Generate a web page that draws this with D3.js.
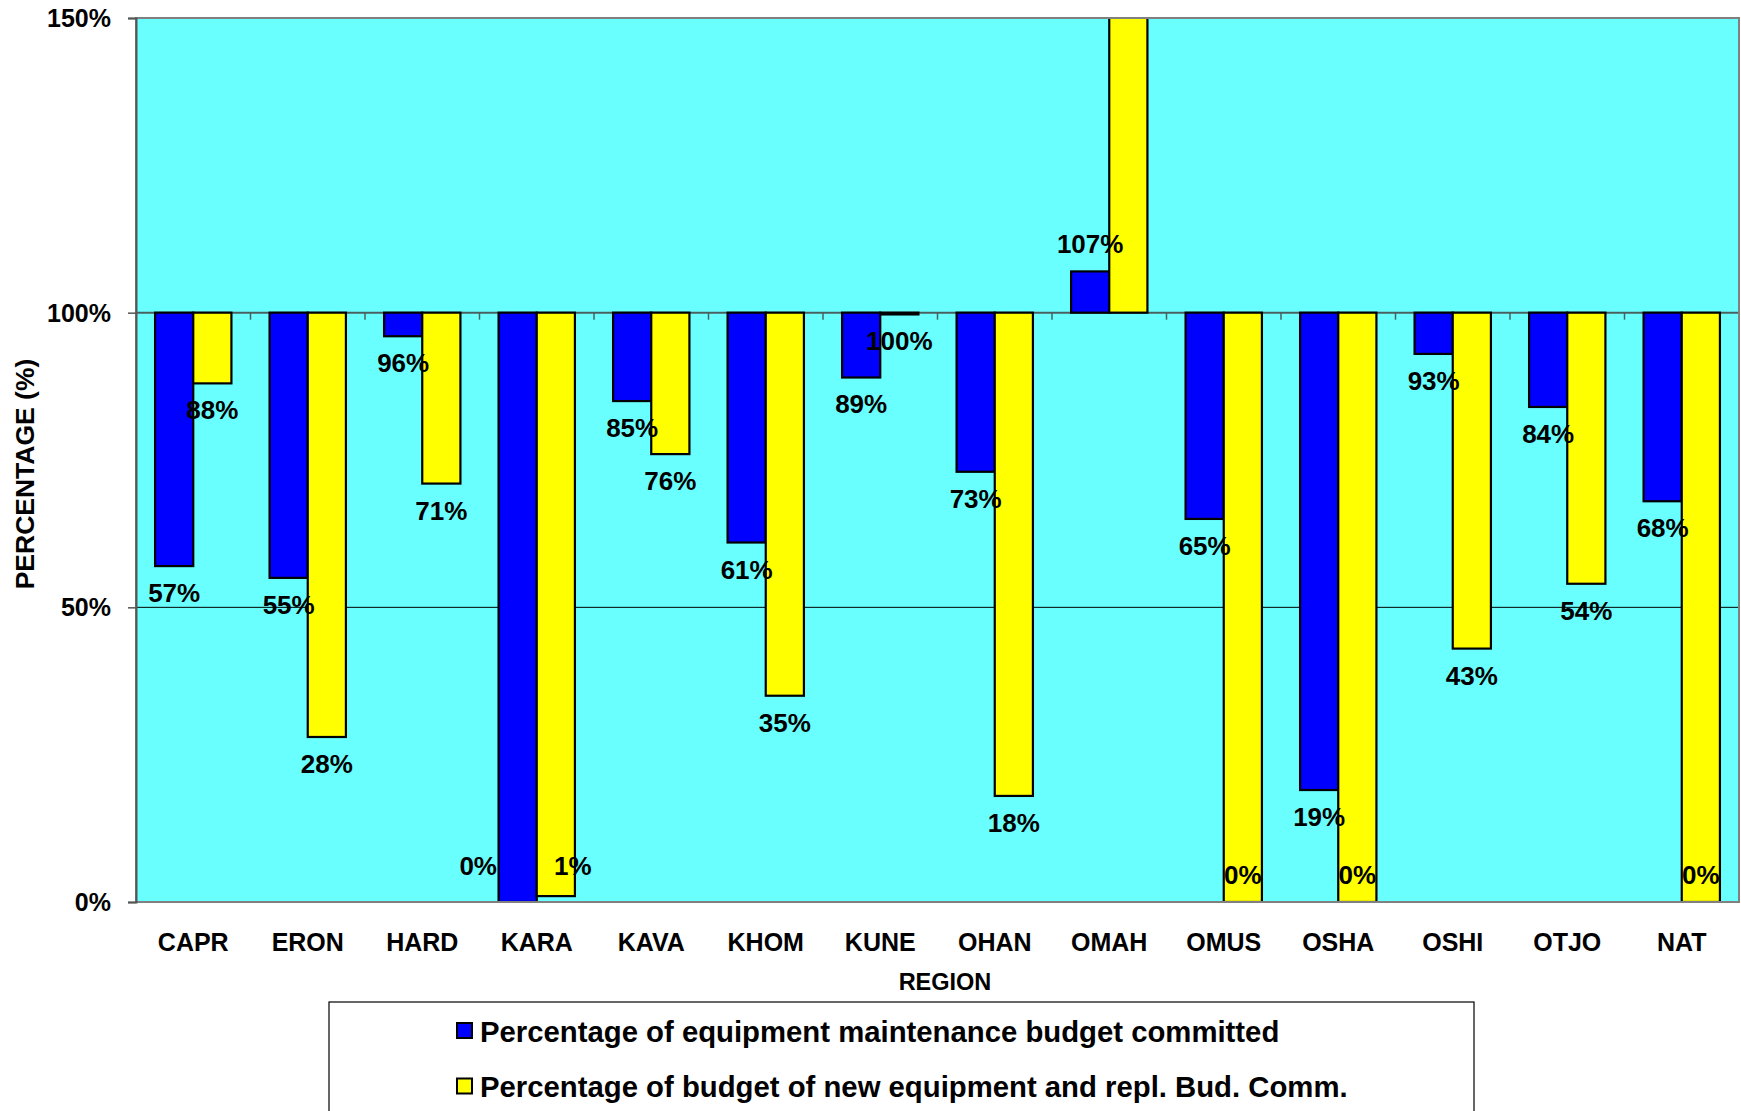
<!DOCTYPE html>
<html>
<head>
<meta charset="utf-8">
<script src="https://cdn.jsdelivr.net/npm/d3@7"></script>
<style>
  html, body { margin: 0; padding: 0; background: #ffffff; }
  svg { display: block; }
  text { font-family: Arial, "Liberation Sans", sans-serif; font-weight: bold; fill: #000; }
</style>
</head>
<body>
<svg id="chart" width="1741" height="1111"></svg>
<script>
// ---- data ----
const categories = ["CAPR", "ERON", "HARD", "KARA", "KAVA", "KHOM", "KUNE", "OHAN", "OMAH", "OMUS", "OSHA", "OSHI", "OTJO", "NAT"];
const maintenanceCommitted = [0.57, 0.55, 0.96, 0.00, 0.85, 0.61, 0.89, 0.73, 1.07, 0.65, 0.19, 0.93, 0.84, 0.68];
const newEquipmentCommitted = [0.88, 0.28, 0.71, 0.01, 0.76, 0.35, 0.997, 0.18, 1.62, 0.00, 0.00, 0.43, 0.54, 0.00];
const seriesNames = ["Percentage of equipment maintenance budget committed", "Percentage of budget of new equipment and repl. Bud. Comm."];
const yTicks = [0, 0.5, 1.0, 1.5];
const baseValue = 1.0;

// ---- layout ----
const svg = d3.select("#chart");
const plot = { left: 136, right: 1739, top: 18, bottom: 902 };
const colors = ["#0000FF", "#FFFF00"];
const bg = "#6AFFFF";
const pct = d3.format(".0%");

const x = d3.scaleBand().domain(categories).range([plot.left, plot.right]).paddingInner(0).paddingOuter(0);
const y = d3.scaleLinear().domain([0, 1.5]).range([plot.bottom, plot.top]);
const inner = d3.scaleBand().domain([0, 1]).range([x.bandwidth() / 6, x.bandwidth() * 5 / 6]).padding(0);

// background
svg.append("rect").attr("x", plot.left).attr("y", plot.top)
  .attr("width", plot.right - plot.left).attr("height", plot.bottom - plot.top)
  .attr("fill", bg);

// gridline at 50%
svg.append("line").attr("x1", plot.left).attr("x2", plot.right)
  .attr("y1", y(0.5)).attr("y2", y(0.5)).attr("stroke", "#000").attr("stroke-width", 1);

svg.append("clipPath").attr("id", "plotClip").append("rect")
  .attr("x", plot.left).attr("y", plot.top)
  .attr("width", plot.right - plot.left).attr("height", plot.bottom - plot.top);

const series = [maintenanceCommitted, newEquipmentCommitted];
const barData = [];
series.forEach((vals, s) => vals.forEach((v, i) => barData.push({ cat: categories[i], s, v })));

// category axis line at 100% with boundary ticks
const axisY = y(baseValue);
svg.append("line").attr("x1", plot.left).attr("x2", plot.right)
  .attr("y1", axisY).attr("y2", axisY).attr("stroke", "#4a6060").attr("stroke-width", 2);
const boundaries = categories.map(c => x(c)).concat([x(categories[categories.length - 1]) + x.bandwidth()]);
svg.append("g").selectAll("line").data(boundaries).join("line")
  .attr("x1", d => d).attr("x2", d => d)
  .attr("y1", axisY).attr("y2", axisY + 7)
  .attr("stroke", "#4a6060").attr("stroke-width", 1.5);

// bars
svg.append("g").attr("clip-path", "url(#plotClip)")
  .selectAll("rect").data(barData).join("rect")
  .attr("x", d => x(d.cat) + inner(d.s))
  .attr("width", inner.bandwidth())
  .attr("y", d => Math.min(y(d.v), y(baseValue)))
  .attr("height", d => Math.abs(y(d.v) - y(baseValue)))
  .attr("fill", d => colors[d.s])
  .attr("stroke", "#000").attr("stroke-width", 2.2);

// plot border
svg.append("rect").attr("x", plot.left).attr("y", plot.top)
  .attr("width", plot.right - plot.left).attr("height", plot.bottom - plot.top)
  .attr("fill", "none").attr("stroke", "#808080").attr("stroke-width", 2);

// y axis
const yAxis = d3.axisLeft(y).tickValues(yTicks).tickSize(8).tickPadding(17).tickFormat(pct);
const gy = svg.append("g").attr("transform", `translate(${plot.left},0)`).call(yAxis);
gy.select(".domain").attr("stroke", "#555").attr("stroke-width", 2);
gy.selectAll(".tick line").attr("stroke", "#555").attr("stroke-width", 1.5);
gy.selectAll(".tick text").attr("font-size", 25).attr("font-weight", "bold")
  .attr("font-family", "Arial, 'Liberation Sans', sans-serif").attr("fill", "#000").attr("dy", "0.34em");

// data labels (outside end, kept inside the plot, pushed apart when they collide)
const labelOffset = 27;
const labels = barData.filter(d => d.v <= 1.5).map(d => {
  let cy = d.v >= baseValue ? y(d.v) - labelOffset : y(d.v) + labelOffset;
  const clamped = cy > plot.bottom - labelOffset;
  if (clamped) cy = plot.bottom - labelOffset - (d.v > 0.005 || d.s === 0 ? 9 : 0);
  return { ...d, cx: x(d.cat) + inner(d.s) + inner.bandwidth() / 2, cy, clamped, text: pct(d.v) };
});
const labelSel = svg.append("g").selectAll("text").data(labels).join("text")
  .attr("text-anchor", "middle").attr("dominant-baseline", "central")
  .attr("font-size", 26)
  .text(d => d.text);
labelSel.each(function (d) { d.w = this.getComputedTextLength(); });
// simple collision avoidance within a category
categories.forEach(c => {
  const pair = labels.filter(l => l.cat === c);
  if (pair.length === 2) {
    const [a, b] = pair;
    const need = (a.w + b.w) / 2 + 57;
    if (Math.abs(a.cy - b.cy) < 24 && (b.cx - a.cx) < (a.w + b.w) / 2 + 4) {
      const extra = need - (b.cx - a.cx);
      a.cx -= extra * 0.7;
      b.cx += extra * 0.3;
    }
  }
});
labelSel.attr("x", d => d.cx).attr("y", d => d.cy);

// category labels
svg.append("g").selectAll("text").data(categories).join("text")
  .attr("x", d => x(d) + x.bandwidth() / 2)
  .attr("y", 942).attr("text-anchor", "middle").attr("dominant-baseline", "central")
  .attr("font-size", 25).text(d => d);

// axis titles
svg.append("text").attr("x", 945).attr("y", 982).attr("text-anchor", "middle")
  .attr("dominant-baseline", "central").attr("font-size", 23.5).text("REGION");
svg.append("text").attr("transform", "translate(25,474) rotate(-90)")
  .attr("text-anchor", "middle").attr("dominant-baseline", "central")
  .attr("font-size", 26.5).text("PERCENTAGE (%)");

// legend
svg.append("rect").attr("x", 329).attr("y", 1002).attr("width", 1145).attr("height", 130)
  .attr("fill", "#fff").attr("stroke", "#000").attr("stroke-width", 1.2);
const legend = svg.append("g").selectAll("g").data(seriesNames).join("g")
  .attr("transform", (d, i) => `translate(457, ${1031 + i * 55.5})`);
legend.append("rect").attr("x", 0).attr("y", -8).attr("width", 15).attr("height", 15)
  .attr("fill", (d, i) => colors[i]).attr("stroke", "#000").attr("stroke-width", 2);
legend.append("text").attr("x", 23).attr("y", 0).attr("dominant-baseline", "central")
  .attr("font-size", 29.3).text(d => d);
</script>
</body>
</html>
